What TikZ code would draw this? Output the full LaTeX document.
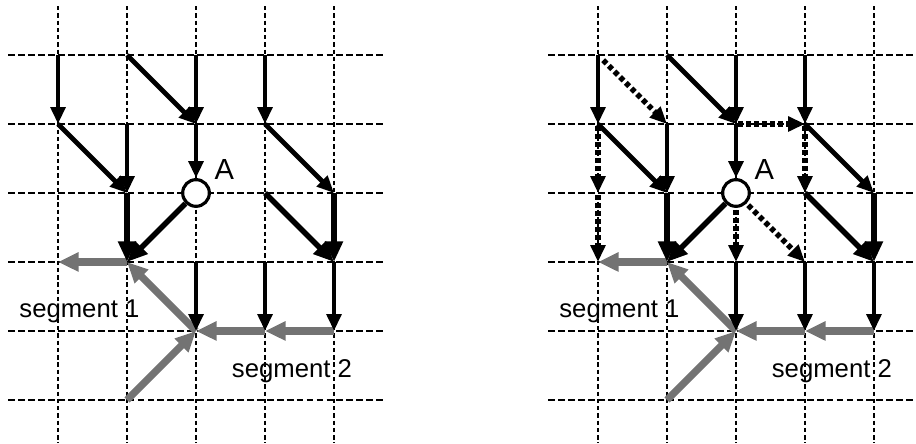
\documentclass[tikz,border=0pt]{standalone}
\usepackage{fontspec}
\setmainfont{Liberation Sans}
\usetikzlibrary{arrows.meta}

\begin{document}
\begin{tikzpicture}[
  hgrid/.style={line width=1pt,dash pattern=on 2.8pt off 1.3pt},
  vgrid/.style={line width=1pt,dash pattern=on 1.8pt off 1.2pt},
  flow/.style={line width=2pt,-{Triangle[length=7pt,width=6pt]}},
  bigflow/.style={line width=2.3pt,-{Triangle[length=8.5pt,width=7pt]}},
  altflow/.style={flow,line width=2.2pt,dash pattern=on 2pt off 1.3pt,shorten <=1pt},
  segflow/.style={draw=black!55,line width=3pt,-{Triangle[length=8.5pt,width=7.5pt]}},
  junction/.style={circle,draw,fill=white,line width=1.3pt,minimum size=11pt,inner sep=0pt},
  lbl/.style={font=\fontsize{10.6}{12}\selectfont,anchor=base,inner sep=0pt}
]
  \useasboundingbox (-0.841,0.797) rectangle (12.435,-5.638);

  % Grid points and dashed grid of both panels
  \foreach \p/\dx/\ext in {l/0/4.71,r/7.826/4.6}{
    \foreach \i in {0,...,4}
      \foreach \j in {0,...,5}
        \coordinate (\p-\i-\j) at (\dx+\i,-\j);
    \foreach \i in {0,...,4}
      \draw[vgrid] (\dx+\i,0.71) -- (\dx+\i,-5.63);
    \foreach \j in {0,...,5}
      \draw[hgrid] (\dx-0.72,-\j) -- (\dx+\ext,-\j);
  }

  \foreach \p in {l,r}{
    % Grey merged segments
    \draw[segflow] (\p-1-3) -- (\p-0-3);
    \draw[segflow] (\p-2-4) -- (\p-1-3);
    \draw[segflow] (\p-3-4) -- (\p-2-4);
    \draw[segflow] (\p-4-4) -- (\p-3-4);
    \draw[segflow] (\p-1-5) -- (\p-2-4);
    % Junction A
    \node[junction] (\p-A) at (\p-2-2) {};
    \node[lbl,font=\fontsize{12}{14}\selectfont] (\p-Alab) at ([shift={(0.41,0.19)}]\p-2-2) {A};
    % Flow directions
    \draw[flow] (\p-0-0) -- (\p-0-1);
    \draw[flow] (\p-1-0) -- (\p-2-1);
    \draw[flow] (\p-2-0) -- (\p-2-1);
    \draw[flow] (\p-3-0) -- (\p-3-1);
    \draw[flow] (\p-0-1) -- (\p-1-2);
    \draw[flow] (\p-1-1) -- (\p-1-2);
    \draw[flow] (\p-2-1) -- (\p-A);
    \draw[flow] (\p-3-1) -- (\p-4-2);
    \draw[bigflow] (\p-1-2) -- (\p-1-3);
    \draw[bigflow] (\p-A) -- (\p-1-3);
    \draw[bigflow] (\p-3-2) -- (\p-4-3);
    \draw[bigflow] (\p-4-2) -- (\p-4-3);
    \draw[flow] (\p-2-3) -- (\p-2-4);
    \draw[flow] (\p-3-3) -- (\p-3-4);
    \draw[flow] (\p-4-3) -- (\p-4-4);
    % Segment labels
    \node[lbl] (\p-seg1) at ([shift={(0.31,-3.81)}]\p-0-0) {segment 1};
    \node[lbl] (\p-seg2) at ([shift={(3.39,-4.67)}]\p-0-0) {segment 2};
  }

  % Alternative directions (right panel)
  \draw[altflow,shorten <=3pt] (r-0-0) -- (r-1-1);
  \draw[altflow] (r-2-1) -- (r-3-1);
  \draw[altflow] (r-0-1) -- (r-0-2);
  \draw[altflow] (r-0-2) -- (r-0-3);
  \draw[altflow] (r-3-1) -- (r-3-2);
  \draw[altflow] (r-A) -- (r-2-3);
  \draw[altflow] (r-A) -- (r-3-3);
\end{tikzpicture}
\end{document}
